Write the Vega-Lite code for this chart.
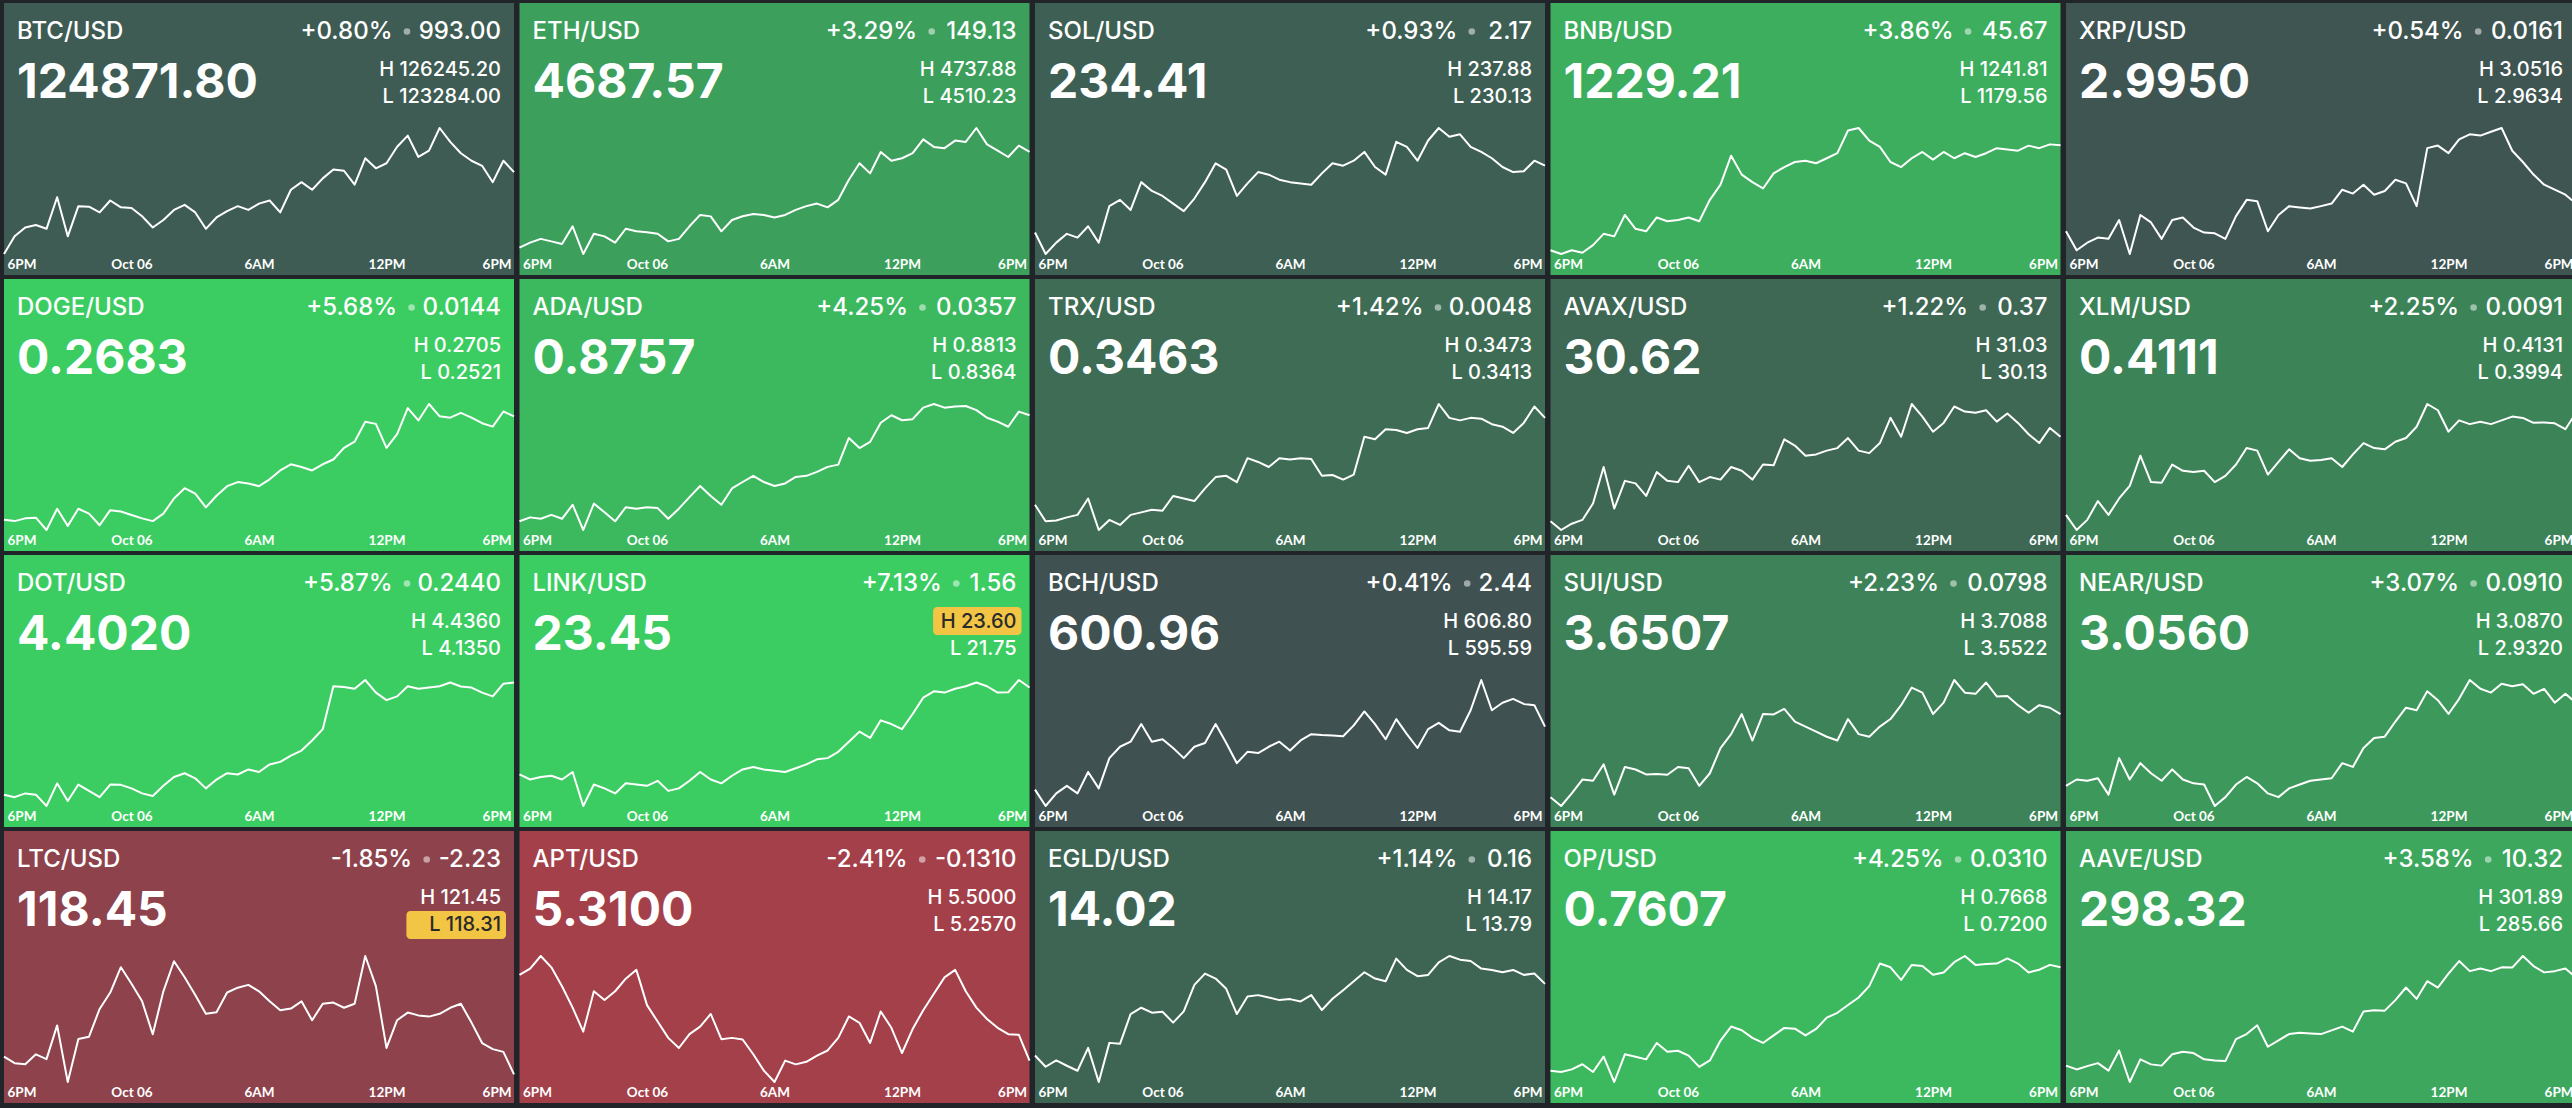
{
"$schema":"https://vega.github.io/schema/vega-lite/v6.json",
"background":"#21252a",
"padding":{"left":3,"top":3,"right":5,"bottom":5},
"config":{"view":{"stroke":null},
 "header":{"labels":false,"labelExpr":"''","labelFontSize":0,"labelPadding":0,"titleFontSize":0,"titlePadding":0},
 "headerFacet":{"labels":false,"labelExpr":"''","labelFontSize":0,"labelPadding":0,"titleFontSize":0,"titlePadding":0}},
"spacing":{"row":4,"column":3.5},
"columns":5,
"data":{"format":{"parse":{"t":"date:'%m-%d %H:%M'"}},"values":[
{"s":"BTC","pair":"BTC/USD","price":"124871.80","pct":0.80,"chg":"993.00","hi":"126245.20","lo":"123284.00"},
{"s":"ETH","pair":"ETH/USD","price":"4687.57","pct":3.29,"chg":"149.13","hi":"4737.88","lo":"4510.23"},
{"s":"SOL","pair":"SOL/USD","price":"234.41","pct":0.93,"chg":"2.17","hi":"237.88","lo":"230.13"},
{"s":"BNB","pair":"BNB/USD","price":"1229.21","pct":3.86,"chg":"45.67","hi":"1241.81","lo":"1179.56"},
{"s":"XRP","pair":"XRP/USD","price":"2.9950","pct":0.54,"chg":"0.0161","hi":"3.0516","lo":"2.9634"},
{"s":"DOGE","pair":"DOGE/USD","price":"0.2683","pct":5.68,"chg":"0.0144","hi":"0.2705","lo":"0.2521"},
{"s":"ADA","pair":"ADA/USD","price":"0.8757","pct":4.25,"chg":"0.0357","hi":"0.8813","lo":"0.8364"},
{"s":"TRX","pair":"TRX/USD","price":"0.3463","pct":1.42,"chg":"0.0048","hi":"0.3473","lo":"0.3413"},
{"s":"AVAX","pair":"AVAX/USD","price":"30.62","pct":1.22,"chg":"0.37","hi":"31.03","lo":"30.13"},
{"s":"XLM","pair":"XLM/USD","price":"0.4111","pct":2.25,"chg":"0.0091","hi":"0.4131","lo":"0.3994"},
{"s":"DOT","pair":"DOT/USD","price":"4.4020","pct":5.87,"chg":"0.2440","hi":"4.4360","lo":"4.1350"},
{"s":"LINK","pair":"LINK/USD","price":"23.45","pct":7.13,"chg":"1.56","hi":"23.60","lo":"21.75"},
{"s":"BCH","pair":"BCH/USD","price":"600.96","pct":0.41,"chg":"2.44","hi":"606.80","lo":"595.59"},
{"s":"SUI","pair":"SUI/USD","price":"3.6507","pct":2.23,"chg":"0.0798","hi":"3.7088","lo":"3.5522"},
{"s":"NEAR","pair":"NEAR/USD","price":"3.0560","pct":3.07,"chg":"0.0910","hi":"3.0870","lo":"2.9320"},
{"s":"LTC","pair":"LTC/USD","price":"118.45","pct":-1.85,"chg":"-2.23","hi":"121.45","lo":"118.31"},
{"s":"APT","pair":"APT/USD","price":"5.3100","pct":-2.41,"chg":"-0.1310","hi":"5.5000","lo":"5.2570"},
{"s":"EGLD","pair":"EGLD/USD","price":"14.02","pct":1.14,"chg":"0.16","hi":"14.17","lo":"13.79"},
{"s":"OP","pair":"OP/USD","price":"0.7607","pct":4.25,"chg":"0.0310","hi":"0.7668","lo":"0.7200"},
{"s":"AAVE","pair":"AAVE/USD","price":"298.32","pct":3.58,"chg":"10.32","hi":"301.89","lo":"285.66"},
{"s":"BTC","t":"10-05 18:00","v":123284},{"s":"BTC","t":"10-05 18:30","v":123699},{"s":"BTC","t":"10-05 19:00","v":123906},{"s":"BTC","t":"10-05 19:30","v":123965},{"s":"BTC","t":"10-05 20:00","v":123876},{"s":"BTC","t":"10-05 20:30","v":124617},{"s":"BTC","t":"10-05 21:00","v":123699},{"s":"BTC","t":"10-05 21:30","v":124409},{"s":"BTC","t":"10-05 22:00","v":124395},{"s":"BTC","t":"10-05 22:30","v":124261},{"s":"BTC","t":"10-05 23:00","v":124541},{"s":"BTC","t":"10-05 23:30","v":124380},{"s":"BTC","t":"10-06 00:00","v":124366},{"s":"BTC","t":"10-06 00:30","v":124172},{"s":"BTC","t":"10-06 01:00","v":123906},{"s":"BTC","t":"10-06 01:30","v":124084},{"s":"BTC","t":"10-06 02:00","v":124320},{"s":"BTC","t":"10-06 02:30","v":124439},{"s":"BTC","t":"10-06 03:00","v":124261},{"s":"BTC","t":"10-06 03:30","v":123876},{"s":"BTC","t":"10-06 04:00","v":124143},{"s":"BTC","t":"10-06 04:30","v":124292},{"s":"BTC","t":"10-06 05:00","v":124409},{"s":"BTC","t":"10-06 05:30","v":124320},{"s":"BTC","t":"10-06 06:00","v":124468},{"s":"BTC","t":"10-06 06:30","v":124541},{"s":"BTC","t":"10-06 07:00","v":124261},{"s":"BTC","t":"10-06 07:30","v":124794},{"s":"BTC","t":"10-06 08:00","v":124972},{"s":"BTC","t":"10-06 08:30","v":124794},{"s":"BTC","t":"10-06 09:00","v":125061},{"s":"BTC","t":"10-06 09:30","v":125268},{"s":"BTC","t":"10-06 10:00","v":125240},{"s":"BTC","t":"10-06 10:30","v":124913},{"s":"BTC","t":"10-06 11:00","v":125534},{"s":"BTC","t":"10-06 11:30","v":125298},{"s":"BTC","t":"10-06 12:00","v":125416},{"s":"BTC","t":"10-06 12:30","v":125804},{"s":"BTC","t":"10-06 13:00","v":126067},{"s":"BTC","t":"10-06 13:30","v":125565},{"s":"BTC","t":"10-06 14:00","v":125714},{"s":"BTC","t":"10-06 14:30","v":126245},{"s":"BTC","t":"10-06 15:00","v":125919},{"s":"BTC","t":"10-06 15:30","v":125653},{"s":"BTC","t":"10-06 16:00","v":125475},{"s":"BTC","t":"10-06 16:30","v":125357},{"s":"BTC","t":"10-06 17:00","v":124972},{"s":"BTC","t":"10-06 17:30","v":125475},{"s":"BTC","t":"10-06 18:00","v":125209},
{"s":"ETH","t":"10-05 18:00","v":4521.6},{"s":"ETH","t":"10-05 18:30","v":4530.7},{"s":"ETH","t":"10-05 19:00","v":4537.5},{"s":"ETH","t":"10-05 19:30","v":4533.0},{"s":"ETH","t":"10-05 20:00","v":4528.4},{"s":"ETH","t":"10-05 20:30","v":4560.3},{"s":"ETH","t":"10-05 21:00","v":4510.2},{"s":"ETH","t":"10-05 21:30","v":4546.7},{"s":"ETH","t":"10-05 22:00","v":4542.1},{"s":"ETH","t":"10-05 22:30","v":4530.7},{"s":"ETH","t":"10-05 23:00","v":4555.8},{"s":"ETH","t":"10-05 23:30","v":4551.2},{"s":"ETH","t":"10-06 00:00","v":4549.6},{"s":"ETH","t":"10-06 00:30","v":4546.7},{"s":"ETH","t":"10-06 01:00","v":4533.0},{"s":"ETH","t":"10-06 01:30","v":4537.5},{"s":"ETH","t":"10-06 02:00","v":4560.3},{"s":"ETH","t":"10-06 02:30","v":4580.8},{"s":"ETH","t":"10-06 03:00","v":4578.2},{"s":"ETH","t":"10-06 03:30","v":4551.2},{"s":"ETH","t":"10-06 04:00","v":4571.7},{"s":"ETH","t":"10-06 04:30","v":4578.5},{"s":"ETH","t":"10-06 05:00","v":4582.4},{"s":"ETH","t":"10-06 05:30","v":4580.8},{"s":"ETH","t":"10-06 06:00","v":4576.1},{"s":"ETH","t":"10-06 06:30","v":4580.8},{"s":"ETH","t":"10-06 07:00","v":4589.9},{"s":"ETH","t":"10-06 07:30","v":4596.7},{"s":"ETH","t":"10-06 08:00","v":4601.3},{"s":"ETH","t":"10-06 08:30","v":4594.5},{"s":"ETH","t":"10-06 09:00","v":4608.1},{"s":"ETH","t":"10-06 09:30","v":4644.5},{"s":"ETH","t":"10-06 10:00","v":4674.1},{"s":"ETH","t":"10-06 10:30","v":4655.9},{"s":"ETH","t":"10-06 11:00","v":4694.6},{"s":"ETH","t":"10-06 11:30","v":4678.7},{"s":"ETH","t":"10-06 12:00","v":4683.2},{"s":"ETH","t":"10-06 12:30","v":4692.4},{"s":"ETH","t":"10-06 13:00","v":4717.4},{"s":"ETH","t":"10-06 13:30","v":4703.7},{"s":"ETH","t":"10-06 14:00","v":4701.5},{"s":"ETH","t":"10-06 14:30","v":4715.1},{"s":"ETH","t":"10-06 15:00","v":4712.8},{"s":"ETH","t":"10-06 15:30","v":4737.9},{"s":"ETH","t":"10-06 16:00","v":4708.3},{"s":"ETH","t":"10-06 16:30","v":4696.9},{"s":"ETH","t":"10-06 17:00","v":4685.5},{"s":"ETH","t":"10-06 17:30","v":4706.0},{"s":"ETH","t":"10-06 18:00","v":4694.6},
{"s":"SOL","t":"10-05 18:00","v":231.45},{"s":"SOL","t":"10-05 18:30","v":230.13},{"s":"SOL","t":"10-05 19:00","v":230.83},{"s":"SOL","t":"10-05 19:30","v":231.37},{"s":"SOL","t":"10-05 20:00","v":231.14},{"s":"SOL","t":"10-05 20:30","v":231.84},{"s":"SOL","t":"10-05 21:00","v":230.83},{"s":"SOL","t":"10-05 21:30","v":233.08},{"s":"SOL","t":"10-05 22:00","v":233.46},{"s":"SOL","t":"10-05 22:30","v":232.84},{"s":"SOL","t":"10-05 23:00","v":234.55},{"s":"SOL","t":"10-05 23:30","v":234.01},{"s":"SOL","t":"10-06 00:00","v":233.70},{"s":"SOL","t":"10-06 00:30","v":233.23},{"s":"SOL","t":"10-06 01:00","v":232.77},{"s":"SOL","t":"10-06 01:30","v":233.54},{"s":"SOL","t":"10-06 02:00","v":234.55},{"s":"SOL","t":"10-06 02:30","v":235.71},{"s":"SOL","t":"10-06 03:00","v":235.32},{"s":"SOL","t":"10-06 03:30","v":233.70},{"s":"SOL","t":"10-06 04:00","v":234.47},{"s":"SOL","t":"10-06 04:30","v":235.17},{"s":"SOL","t":"10-06 05:00","v":235.01},{"s":"SOL","t":"10-06 05:30","v":234.70},{"s":"SOL","t":"10-06 06:00","v":234.55},{"s":"SOL","t":"10-06 06:30","v":234.47},{"s":"SOL","t":"10-06 07:00","v":234.39},{"s":"SOL","t":"10-06 07:30","v":235.09},{"s":"SOL","t":"10-06 08:00","v":235.71},{"s":"SOL","t":"10-06 08:30","v":235.56},{"s":"SOL","t":"10-06 09:00","v":235.87},{"s":"SOL","t":"10-06 09:30","v":236.41},{"s":"SOL","t":"10-06 10:00","v":235.48},{"s":"SOL","t":"10-06 10:30","v":235.01},{"s":"SOL","t":"10-06 11:00","v":237.03},{"s":"SOL","t":"10-06 11:30","v":236.72},{"s":"SOL","t":"10-06 12:00","v":235.87},{"s":"SOL","t":"10-06 12:30","v":237.11},{"s":"SOL","t":"10-06 13:00","v":237.88},{"s":"SOL","t":"10-06 13:30","v":237.34},{"s":"SOL","t":"10-06 14:00","v":237.49},{"s":"SOL","t":"10-06 14:30","v":236.72},{"s":"SOL","t":"10-06 15:00","v":236.41},{"s":"SOL","t":"10-06 15:30","v":236.02},{"s":"SOL","t":"10-06 16:00","v":235.48},{"s":"SOL","t":"10-06 16:30","v":235.17},{"s":"SOL","t":"10-06 17:00","v":235.22},{"s":"SOL","t":"10-06 17:30","v":235.87},{"s":"SOL","t":"10-06 18:00","v":235.56},
{"s":"BNB","t":"10-05 18:00","v":1181.43},{"s":"BNB","t":"10-05 18:30","v":1179.56},{"s":"BNB","t":"10-05 19:00","v":1181.43},{"s":"BNB","t":"10-05 19:30","v":1180.18},{"s":"BNB","t":"10-05 20:00","v":1183.92},{"s":"BNB","t":"10-05 20:30","v":1189.52},{"s":"BNB","t":"10-05 21:00","v":1188.28},{"s":"BNB","t":"10-05 21:30","v":1198.86},{"s":"BNB","t":"10-05 22:00","v":1192.01},{"s":"BNB","t":"10-05 22:30","v":1190.77},{"s":"BNB","t":"10-05 23:00","v":1197.61},{"s":"BNB","t":"10-05 23:30","v":1195.75},{"s":"BNB","t":"10-06 00:00","v":1196.37},{"s":"BNB","t":"10-06 00:30","v":1197.61},{"s":"BNB","t":"10-06 01:00","v":1195.75},{"s":"BNB","t":"10-06 01:30","v":1206.33},{"s":"BNB","t":"10-06 02:00","v":1213.80},{"s":"BNB","t":"10-06 02:30","v":1228.12},{"s":"BNB","t":"10-06 03:00","v":1218.78},{"s":"BNB","t":"10-06 03:30","v":1215.04},{"s":"BNB","t":"10-06 04:00","v":1211.93},{"s":"BNB","t":"10-06 04:30","v":1219.40},{"s":"BNB","t":"10-06 05:00","v":1222.51},{"s":"BNB","t":"10-06 05:30","v":1225.00},{"s":"BNB","t":"10-06 06:00","v":1225.63},{"s":"BNB","t":"10-06 06:30","v":1224.40},{"s":"BNB","t":"10-06 07:00","v":1226.87},{"s":"BNB","t":"10-06 07:30","v":1229.36},{"s":"BNB","t":"10-06 08:00","v":1240.57},{"s":"BNB","t":"10-06 08:30","v":1241.81},{"s":"BNB","t":"10-06 09:00","v":1235.59},{"s":"BNB","t":"10-06 09:30","v":1232.47},{"s":"BNB","t":"10-06 10:00","v":1225.00},{"s":"BNB","t":"10-06 10:30","v":1222.51},{"s":"BNB","t":"10-06 11:00","v":1226.87},{"s":"BNB","t":"10-06 11:30","v":1229.98},{"s":"BNB","t":"10-06 12:00","v":1226.20},{"s":"BNB","t":"10-06 12:30","v":1229.98},{"s":"BNB","t":"10-06 13:00","v":1226.87},{"s":"BNB","t":"10-06 13:30","v":1229.36},{"s":"BNB","t":"10-06 14:00","v":1227.49},{"s":"BNB","t":"10-06 14:30","v":1229.36},{"s":"BNB","t":"10-06 15:00","v":1231.85},{"s":"BNB","t":"10-06 15:30","v":1231.20},{"s":"BNB","t":"10-06 16:00","v":1230.61},{"s":"BNB","t":"10-06 16:30","v":1233.10},{"s":"BNB","t":"10-06 17:00","v":1231.85},{"s":"BNB","t":"10-06 17:30","v":1233.72},{"s":"BNB","t":"10-06 18:00","v":1233.30},
{"s":"XRP","t":"10-05 18:00","v":2.9793},{"s":"XRP","t":"10-05 18:30","v":2.9660},{"s":"XRP","t":"10-05 19:00","v":2.9713},{"s":"XRP","t":"10-05 19:30","v":2.9749},{"s":"XRP","t":"10-05 20:00","v":2.9740},{"s":"XRP","t":"10-05 20:30","v":2.9872},{"s":"XRP","t":"10-05 21:00","v":2.9634},{"s":"XRP","t":"10-05 21:30","v":2.9907},{"s":"XRP","t":"10-05 22:00","v":2.9855},{"s":"XRP","t":"10-05 22:30","v":2.9740},{"s":"XRP","t":"10-05 23:00","v":2.9872},{"s":"XRP","t":"10-05 23:30","v":2.9890},{"s":"XRP","t":"10-06 00:00","v":2.9819},{"s":"XRP","t":"10-06 00:30","v":2.9784},{"s":"XRP","t":"10-06 01:00","v":2.9779},{"s":"XRP","t":"10-06 01:30","v":2.9740},{"s":"XRP","t":"10-06 02:00","v":2.9899},{"s":"XRP","t":"10-06 02:30","v":3.0013},{"s":"XRP","t":"10-06 03:00","v":3.0004},{"s":"XRP","t":"10-06 03:30","v":2.9793},{"s":"XRP","t":"10-06 04:00","v":2.9907},{"s":"XRP","t":"10-06 04:30","v":2.9969},{"s":"XRP","t":"10-06 05:00","v":2.9960},{"s":"XRP","t":"10-06 05:30","v":2.9952},{"s":"XRP","t":"10-06 06:00","v":2.9969},{"s":"XRP","t":"10-06 06:30","v":2.9987},{"s":"XRP","t":"10-06 07:00","v":3.0084},{"s":"XRP","t":"10-06 07:30","v":3.0057},{"s":"XRP","t":"10-06 08:00","v":3.0119},{"s":"XRP","t":"10-06 08:30","v":3.0049},{"s":"XRP","t":"10-06 09:00","v":3.0075},{"s":"XRP","t":"10-06 09:30","v":3.0154},{"s":"XRP","t":"10-06 10:00","v":3.0128},{"s":"XRP","t":"10-06 10:30","v":2.9969},{"s":"XRP","t":"10-06 11:00","v":3.0375},{"s":"XRP","t":"10-06 11:30","v":3.0393},{"s":"XRP","t":"10-06 12:00","v":3.0340},{"s":"XRP","t":"10-06 12:30","v":3.0437},{"s":"XRP","t":"10-06 13:00","v":3.0472},{"s":"XRP","t":"10-06 13:30","v":3.0463},{"s":"XRP","t":"10-06 14:00","v":3.0490},{"s":"XRP","t":"10-06 14:30","v":3.0516},{"s":"XRP","t":"10-06 15:00","v":3.0357},{"s":"XRP","t":"10-06 15:30","v":3.0278},{"s":"XRP","t":"10-06 16:00","v":3.0190},{"s":"XRP","t":"10-06 16:30","v":3.0119},{"s":"XRP","t":"10-06 17:00","v":3.0084},{"s":"XRP","t":"10-06 17:30","v":3.0049},{"s":"XRP","t":"10-06 18:00","v":2.9987},
{"s":"DOGE","t":"10-05 18:00","v":0.2536},{"s":"DOGE","t":"10-05 18:30","v":0.2534},{"s":"DOGE","t":"10-05 19:00","v":0.2538},{"s":"DOGE","t":"10-05 19:30","v":0.2539},{"s":"DOGE","t":"10-05 20:00","v":0.2521},{"s":"DOGE","t":"10-05 20:30","v":0.2552},{"s":"DOGE","t":"10-05 21:00","v":0.2527},{"s":"DOGE","t":"10-05 21:30","v":0.2552},{"s":"DOGE","t":"10-05 22:00","v":0.2545},{"s":"DOGE","t":"10-05 22:30","v":0.2528},{"s":"DOGE","t":"10-05 23:00","v":0.2550},{"s":"DOGE","t":"10-05 23:30","v":0.2548},{"s":"DOGE","t":"10-06 00:00","v":0.2543},{"s":"DOGE","t":"10-06 00:30","v":0.2538},{"s":"DOGE","t":"10-06 01:00","v":0.2534},{"s":"DOGE","t":"10-06 01:30","v":0.2545},{"s":"DOGE","t":"10-06 02:00","v":0.2567},{"s":"DOGE","t":"10-06 02:30","v":0.2582},{"s":"DOGE","t":"10-06 03:00","v":0.2574},{"s":"DOGE","t":"10-06 03:30","v":0.2554},{"s":"DOGE","t":"10-06 04:00","v":0.2571},{"s":"DOGE","t":"10-06 04:30","v":0.2585},{"s":"DOGE","t":"10-06 05:00","v":0.2591},{"s":"DOGE","t":"10-06 05:30","v":0.2589},{"s":"DOGE","t":"10-06 06:00","v":0.2585},{"s":"DOGE","t":"10-06 06:30","v":0.2595},{"s":"DOGE","t":"10-06 07:00","v":0.2608},{"s":"DOGE","t":"10-06 07:30","v":0.2617},{"s":"DOGE","t":"10-06 08:00","v":0.2613},{"s":"DOGE","t":"10-06 08:30","v":0.2608},{"s":"DOGE","t":"10-06 09:00","v":0.2617},{"s":"DOGE","t":"10-06 09:30","v":0.2624},{"s":"DOGE","t":"10-06 10:00","v":0.2641},{"s":"DOGE","t":"10-06 10:30","v":0.2650},{"s":"DOGE","t":"10-06 11:00","v":0.2679},{"s":"DOGE","t":"10-06 11:30","v":0.2676},{"s":"DOGE","t":"10-06 12:00","v":0.2641},{"s":"DOGE","t":"10-06 12:30","v":0.2661},{"s":"DOGE","t":"10-06 13:00","v":0.2699},{"s":"DOGE","t":"10-06 13:30","v":0.2681},{"s":"DOGE","t":"10-06 14:00","v":0.2705},{"s":"DOGE","t":"10-06 14:30","v":0.2687},{"s":"DOGE","t":"10-06 15:00","v":0.2685},{"s":"DOGE","t":"10-06 15:30","v":0.2692},{"s":"DOGE","t":"10-06 16:00","v":0.2685},{"s":"DOGE","t":"10-06 16:30","v":0.2677},{"s":"DOGE","t":"10-06 17:00","v":0.2672},{"s":"DOGE","t":"10-06 17:30","v":0.2694},{"s":"DOGE","t":"10-06 18:00","v":0.2687},
{"s":"ADA","t":"10-05 18:00","v":0.8395},{"s":"ADA","t":"10-05 18:30","v":0.8409},{"s":"ADA","t":"10-05 19:00","v":0.8404},{"s":"ADA","t":"10-05 19:30","v":0.8418},{"s":"ADA","t":"10-05 20:00","v":0.8404},{"s":"ADA","t":"10-05 20:30","v":0.8454},{"s":"ADA","t":"10-05 21:00","v":0.8364},{"s":"ADA","t":"10-05 21:30","v":0.8458},{"s":"ADA","t":"10-05 22:00","v":0.8427},{"s":"ADA","t":"10-05 22:30","v":0.8395},{"s":"ADA","t":"10-05 23:00","v":0.8445},{"s":"ADA","t":"10-05 23:30","v":0.8440},{"s":"ADA","t":"10-06 00:00","v":0.8445},{"s":"ADA","t":"10-06 00:30","v":0.8442},{"s":"ADA","t":"10-06 01:00","v":0.8404},{"s":"ADA","t":"10-06 01:30","v":0.8440},{"s":"ADA","t":"10-06 02:00","v":0.8481},{"s":"ADA","t":"10-06 02:30","v":0.8521},{"s":"ADA","t":"10-06 03:00","v":0.8485},{"s":"ADA","t":"10-06 03:30","v":0.8454},{"s":"ADA","t":"10-06 04:00","v":0.8512},{"s":"ADA","t":"10-06 04:30","v":0.8535},{"s":"ADA","t":"10-06 05:00","v":0.8557},{"s":"ADA","t":"10-06 05:30","v":0.8535},{"s":"ADA","t":"10-06 06:00","v":0.8521},{"s":"ADA","t":"10-06 06:30","v":0.8530},{"s":"ADA","t":"10-06 07:00","v":0.8553},{"s":"ADA","t":"10-06 07:30","v":0.8557},{"s":"ADA","t":"10-06 08:00","v":0.8571},{"s":"ADA","t":"10-06 08:30","v":0.8589},{"s":"ADA","t":"10-06 09:00","v":0.8597},{"s":"ADA","t":"10-06 09:30","v":0.8692},{"s":"ADA","t":"10-06 10:00","v":0.8656},{"s":"ADA","t":"10-06 10:30","v":0.8678},{"s":"ADA","t":"10-06 11:00","v":0.8746},{"s":"ADA","t":"10-06 11:30","v":0.8773},{"s":"ADA","t":"10-06 12:00","v":0.8755},{"s":"ADA","t":"10-06 12:30","v":0.8759},{"s":"ADA","t":"10-06 13:00","v":0.8800},{"s":"ADA","t":"10-06 13:30","v":0.8813},{"s":"ADA","t":"10-06 14:00","v":0.8800},{"s":"ADA","t":"10-06 14:30","v":0.8804},{"s":"ADA","t":"10-06 15:00","v":0.8806},{"s":"ADA","t":"10-06 15:30","v":0.8791},{"s":"ADA","t":"10-06 16:00","v":0.8764},{"s":"ADA","t":"10-06 16:30","v":0.8750},{"s":"ADA","t":"10-06 17:00","v":0.8732},{"s":"ADA","t":"10-06 17:30","v":0.8786},{"s":"ADA","t":"10-06 18:00","v":0.8773},
{"s":"TRX","t":"10-05 18:00","v":0.34250},{"s":"TRX","t":"10-05 18:30","v":0.34172},{"s":"TRX","t":"10-05 19:00","v":0.34175},{"s":"TRX","t":"10-05 19:30","v":0.34190},{"s":"TRX","t":"10-05 20:00","v":0.34202},{"s":"TRX","t":"10-05 20:30","v":0.34280},{"s":"TRX","t":"10-05 21:00","v":0.34130},{"s":"TRX","t":"10-05 21:30","v":0.34178},{"s":"TRX","t":"10-05 22:00","v":0.34154},{"s":"TRX","t":"10-05 22:30","v":0.34202},{"s":"TRX","t":"10-05 23:00","v":0.34214},{"s":"TRX","t":"10-05 23:30","v":0.34226},{"s":"TRX","t":"10-06 00:00","v":0.34222},{"s":"TRX","t":"10-06 00:30","v":0.34292},{"s":"TRX","t":"10-06 01:00","v":0.34280},{"s":"TRX","t":"10-06 01:30","v":0.34268},{"s":"TRX","t":"10-06 02:00","v":0.34328},{"s":"TRX","t":"10-06 02:30","v":0.34382},{"s":"TRX","t":"10-06 03:00","v":0.34388},{"s":"TRX","t":"10-06 03:30","v":0.34358},{"s":"TRX","t":"10-06 04:00","v":0.34472},{"s":"TRX","t":"10-06 04:30","v":0.34454},{"s":"TRX","t":"10-06 05:00","v":0.34430},{"s":"TRX","t":"10-06 05:30","v":0.34472},{"s":"TRX","t":"10-06 06:00","v":0.34466},{"s":"TRX","t":"10-06 06:30","v":0.34472},{"s":"TRX","t":"10-06 07:00","v":0.34468},{"s":"TRX","t":"10-06 07:30","v":0.34388},{"s":"TRX","t":"10-06 08:00","v":0.34392},{"s":"TRX","t":"10-06 08:30","v":0.34370},{"s":"TRX","t":"10-06 09:00","v":0.34394},{"s":"TRX","t":"10-06 09:30","v":0.34574},{"s":"TRX","t":"10-06 10:00","v":0.34562},{"s":"TRX","t":"10-06 10:30","v":0.34610},{"s":"TRX","t":"10-06 11:00","v":0.34606},{"s":"TRX","t":"10-06 11:30","v":0.34592},{"s":"TRX","t":"10-06 12:00","v":0.34610},{"s":"TRX","t":"10-06 12:30","v":0.34616},{"s":"TRX","t":"10-06 13:00","v":0.34730},{"s":"TRX","t":"10-06 13:30","v":0.34664},{"s":"TRX","t":"10-06 14:00","v":0.34652},{"s":"TRX","t":"10-06 14:30","v":0.34664},{"s":"TRX","t":"10-06 15:00","v":0.34660},{"s":"TRX","t":"10-06 15:30","v":0.34634},{"s":"TRX","t":"10-06 16:00","v":0.34622},{"s":"TRX","t":"10-06 16:30","v":0.34592},{"s":"TRX","t":"10-06 17:00","v":0.34640},{"s":"TRX","t":"10-06 17:30","v":0.34718},{"s":"TRX","t":"10-06 18:00","v":0.34664},
{"s":"AVAX","t":"10-05 18:00","v":30.193},{"s":"AVAX","t":"10-05 18:30","v":30.130},{"s":"AVAX","t":"10-05 19:00","v":30.175},{"s":"AVAX","t":"10-05 19:30","v":30.202},{"s":"AVAX","t":"10-05 20:00","v":30.319},{"s":"AVAX","t":"10-05 20:30","v":30.580},{"s":"AVAX","t":"10-05 21:00","v":30.283},{"s":"AVAX","t":"10-05 21:30","v":30.481},{"s":"AVAX","t":"10-05 22:00","v":30.463},{"s":"AVAX","t":"10-05 22:30","v":30.373},{"s":"AVAX","t":"10-05 23:00","v":30.544},{"s":"AVAX","t":"10-05 23:30","v":30.481},{"s":"AVAX","t":"10-06 00:00","v":30.472},{"s":"AVAX","t":"10-06 00:30","v":30.589},{"s":"AVAX","t":"10-06 01:00","v":30.472},{"s":"AVAX","t":"10-06 01:30","v":30.508},{"s":"AVAX","t":"10-06 02:00","v":30.490},{"s":"AVAX","t":"10-06 02:30","v":30.580},{"s":"AVAX","t":"10-06 03:00","v":30.553},{"s":"AVAX","t":"10-06 03:30","v":30.490},{"s":"AVAX","t":"10-06 04:00","v":30.598},{"s":"AVAX","t":"10-06 04:30","v":30.592},{"s":"AVAX","t":"10-06 05:00","v":30.778},{"s":"AVAX","t":"10-06 05:30","v":30.733},{"s":"AVAX","t":"10-06 06:00","v":30.661},{"s":"AVAX","t":"10-06 06:30","v":30.670},{"s":"AVAX","t":"10-06 07:00","v":30.697},{"s":"AVAX","t":"10-06 07:30","v":30.715},{"s":"AVAX","t":"10-06 08:00","v":30.787},{"s":"AVAX","t":"10-06 08:30","v":30.697},{"s":"AVAX","t":"10-06 09:00","v":30.679},{"s":"AVAX","t":"10-06 09:30","v":30.751},{"s":"AVAX","t":"10-06 10:00","v":30.931},{"s":"AVAX","t":"10-06 10:30","v":30.796},{"s":"AVAX","t":"10-06 11:00","v":31.030},{"s":"AVAX","t":"10-06 11:30","v":30.940},{"s":"AVAX","t":"10-06 12:00","v":30.832},{"s":"AVAX","t":"10-06 12:30","v":30.895},{"s":"AVAX","t":"10-06 13:00","v":31.012},{"s":"AVAX","t":"10-06 13:30","v":30.976},{"s":"AVAX","t":"10-06 14:00","v":30.967},{"s":"AVAX","t":"10-06 14:30","v":30.985},{"s":"AVAX","t":"10-06 15:00","v":30.904},{"s":"AVAX","t":"10-06 15:30","v":30.962},{"s":"AVAX","t":"10-06 16:00","v":30.895},{"s":"AVAX","t":"10-06 16:30","v":30.814},{"s":"AVAX","t":"10-06 17:00","v":30.751},{"s":"AVAX","t":"10-06 17:30","v":30.859},{"s":"AVAX","t":"10-06 18:00","v":30.796},
{"s":"XLM","t":"10-05 18:00","v":0.40104},{"s":"XLM","t":"10-05 18:30","v":0.39940},{"s":"XLM","t":"10-05 19:00","v":0.40050},{"s":"XLM","t":"10-05 19:30","v":0.40255},{"s":"XLM","t":"10-05 20:00","v":0.40104},{"s":"XLM","t":"10-05 20:30","v":0.40283},{"s":"XLM","t":"10-05 21:00","v":0.40420},{"s":"XLM","t":"10-05 21:30","v":0.40748},{"s":"XLM","t":"10-05 22:00","v":0.40461},{"s":"XLM","t":"10-05 22:30","v":0.40455},{"s":"XLM","t":"10-05 23:00","v":0.40652},{"s":"XLM","t":"10-05 23:30","v":0.40584},{"s":"XLM","t":"10-06 00:00","v":0.40570},{"s":"XLM","t":"10-06 00:30","v":0.40584},{"s":"XLM","t":"10-06 01:00","v":0.40461},{"s":"XLM","t":"10-06 01:30","v":0.40529},{"s":"XLM","t":"10-06 02:00","v":0.40652},{"s":"XLM","t":"10-06 02:30","v":0.40831},{"s":"XLM","t":"10-06 03:00","v":0.40803},{"s":"XLM","t":"10-06 03:30","v":0.40543},{"s":"XLM","t":"10-06 04:00","v":0.40680},{"s":"XLM","t":"10-06 04:30","v":0.40817},{"s":"XLM","t":"10-06 05:00","v":0.40721},{"s":"XLM","t":"10-06 05:30","v":0.40694},{"s":"XLM","t":"10-06 06:00","v":0.40700},{"s":"XLM","t":"10-06 06:30","v":0.40721},{"s":"XLM","t":"10-06 07:00","v":0.40625},{"s":"XLM","t":"10-06 07:30","v":0.40762},{"s":"XLM","t":"10-06 08:00","v":0.40885},{"s":"XLM","t":"10-06 08:30","v":0.40831},{"s":"XLM","t":"10-06 09:00","v":0.40817},{"s":"XLM","t":"10-06 09:30","v":0.40899},{"s":"XLM","t":"10-06 10:00","v":0.40940},{"s":"XLM","t":"10-06 10:30","v":0.41063},{"s":"XLM","t":"10-06 11:00","v":0.41310},{"s":"XLM","t":"10-06 11:30","v":0.41242},{"s":"XLM","t":"10-06 12:00","v":0.41009},{"s":"XLM","t":"10-06 12:30","v":0.41132},{"s":"XLM","t":"10-06 13:00","v":0.41091},{"s":"XLM","t":"10-06 13:30","v":0.41118},{"s":"XLM","t":"10-06 14:00","v":0.41091},{"s":"XLM","t":"10-06 14:30","v":0.41132},{"s":"XLM","t":"10-06 15:00","v":0.41173},{"s":"XLM","t":"10-06 15:30","v":0.41159},{"s":"XLM","t":"10-06 16:00","v":0.41105},{"s":"XLM","t":"10-06 16:30","v":0.41110},{"s":"XLM","t":"10-06 17:00","v":0.41100},{"s":"XLM","t":"10-06 17:30","v":0.41036},{"s":"XLM","t":"10-06 18:00","v":0.41214},
{"s":"DOT","t":"10-05 18:00","v":4.1621},{"s":"DOT","t":"10-05 18:30","v":4.1561},{"s":"DOT","t":"10-05 19:00","v":4.1651},{"s":"DOT","t":"10-05 19:30","v":4.1621},{"s":"DOT","t":"10-05 20:00","v":4.1350},{"s":"DOT","t":"10-05 20:30","v":4.1892},{"s":"DOT","t":"10-05 21:00","v":4.1470},{"s":"DOT","t":"10-05 21:30","v":4.1862},{"s":"DOT","t":"10-05 22:00","v":4.1711},{"s":"DOT","t":"10-05 22:30","v":4.1561},{"s":"DOT","t":"10-05 23:00","v":4.1862},{"s":"DOT","t":"10-05 23:30","v":4.1855},{"s":"DOT","t":"10-06 00:00","v":4.1771},{"s":"DOT","t":"10-06 00:30","v":4.1651},{"s":"DOT","t":"10-06 01:00","v":4.1591},{"s":"DOT","t":"10-06 01:30","v":4.1832},{"s":"DOT","t":"10-06 02:00","v":4.2042},{"s":"DOT","t":"10-06 02:30","v":4.2133},{"s":"DOT","t":"10-06 03:00","v":4.2012},{"s":"DOT","t":"10-06 03:30","v":4.1771},{"s":"DOT","t":"10-06 04:00","v":4.1982},{"s":"DOT","t":"10-06 04:30","v":4.2133},{"s":"DOT","t":"10-06 05:00","v":4.2103},{"s":"DOT","t":"10-06 05:30","v":4.2223},{"s":"DOT","t":"10-06 06:00","v":4.2163},{"s":"DOT","t":"10-06 06:30","v":4.2343},{"s":"DOT","t":"10-06 07:00","v":4.2404},{"s":"DOT","t":"10-06 07:30","v":4.2554},{"s":"DOT","t":"10-06 08:00","v":4.2674},{"s":"DOT","t":"10-06 08:30","v":4.2915},{"s":"DOT","t":"10-06 09:00","v":4.3186},{"s":"DOT","t":"10-06 09:30","v":4.4210},{"s":"DOT","t":"10-06 10:00","v":4.4195},{"s":"DOT","t":"10-06 10:30","v":4.4149},{"s":"DOT","t":"10-06 11:00","v":4.4360},{"s":"DOT","t":"10-06 11:30","v":4.4059},{"s":"DOT","t":"10-06 12:00","v":4.3878},{"s":"DOT","t":"10-06 12:30","v":4.3969},{"s":"DOT","t":"10-06 13:00","v":4.4210},{"s":"DOT","t":"10-06 13:30","v":4.4149},{"s":"DOT","t":"10-06 14:00","v":4.4179},{"s":"DOT","t":"10-06 14:30","v":4.4210},{"s":"DOT","t":"10-06 15:00","v":4.4300},{"s":"DOT","t":"10-06 15:30","v":4.4205},{"s":"DOT","t":"10-06 16:00","v":4.4179},{"s":"DOT","t":"10-06 16:30","v":4.4059},{"s":"DOT","t":"10-06 17:00","v":4.3969},{"s":"DOT","t":"10-06 17:30","v":4.4270},{"s":"DOT","t":"10-06 18:00","v":4.4300},
{"s":"LINK","t":"10-05 18:00","v":22.213},{"s":"LINK","t":"10-05 18:30","v":22.139},{"s":"LINK","t":"10-05 19:00","v":22.176},{"s":"LINK","t":"10-05 19:30","v":22.194},{"s":"LINK","t":"10-05 20:00","v":22.139},{"s":"LINK","t":"10-05 20:30","v":22.250},{"s":"LINK","t":"10-05 21:00","v":21.750},{"s":"LINK","t":"10-05 21:30","v":22.065},{"s":"LINK","t":"10-05 22:00","v":22.009},{"s":"LINK","t":"10-05 22:30","v":21.935},{"s":"LINK","t":"10-05 23:00","v":22.083},{"s":"LINK","t":"10-05 23:30","v":22.065},{"s":"LINK","t":"10-06 00:00","v":22.046},{"s":"LINK","t":"10-06 00:30","v":22.120},{"s":"LINK","t":"10-06 01:00","v":21.972},{"s":"LINK","t":"10-06 01:30","v":22.009},{"s":"LINK","t":"10-06 02:00","v":22.120},{"s":"LINK","t":"10-06 02:30","v":22.250},{"s":"LINK","t":"10-06 03:00","v":22.139},{"s":"LINK","t":"10-06 03:30","v":22.083},{"s":"LINK","t":"10-06 04:00","v":22.194},{"s":"LINK","t":"10-06 04:30","v":22.287},{"s":"LINK","t":"10-06 05:00","v":22.324},{"s":"LINK","t":"10-06 05:30","v":22.287},{"s":"LINK","t":"10-06 06:00","v":22.268},{"s":"LINK","t":"10-06 06:30","v":22.250},{"s":"LINK","t":"10-06 07:00","v":22.305},{"s":"LINK","t":"10-06 07:30","v":22.361},{"s":"LINK","t":"10-06 08:00","v":22.435},{"s":"LINK","t":"10-06 08:30","v":22.453},{"s":"LINK","t":"10-06 09:00","v":22.546},{"s":"LINK","t":"10-06 09:30","v":22.694},{"s":"LINK","t":"10-06 10:00","v":22.842},{"s":"LINK","t":"10-06 10:30","v":22.749},{"s":"LINK","t":"10-06 11:00","v":23.008},{"s":"LINK","t":"10-06 11:30","v":22.953},{"s":"LINK","t":"10-06 12:00","v":22.879},{"s":"LINK","t":"10-06 12:30","v":23.101},{"s":"LINK","t":"10-06 13:00","v":23.341},{"s":"LINK","t":"10-06 13:30","v":23.434},{"s":"LINK","t":"10-06 14:00","v":23.415},{"s":"LINK","t":"10-06 14:30","v":23.471},{"s":"LINK","t":"10-06 15:00","v":23.508},{"s":"LINK","t":"10-06 15:30","v":23.563},{"s":"LINK","t":"10-06 16:00","v":23.508},{"s":"LINK","t":"10-06 16:30","v":23.415},{"s":"LINK","t":"10-06 17:00","v":23.420},{"s":"LINK","t":"10-06 17:30","v":23.600},{"s":"LINK","t":"10-06 18:00","v":23.489},
{"s":"BCH","t":"10-05 18:00","v":597.05},{"s":"BCH","t":"10-05 18:30","v":595.59},{"s":"BCH","t":"10-05 19:00","v":596.71},{"s":"BCH","t":"10-05 19:30","v":597.38},{"s":"BCH","t":"10-05 20:00","v":596.71},{"s":"BCH","t":"10-05 20:30","v":598.62},{"s":"BCH","t":"10-05 21:00","v":597.16},{"s":"BCH","t":"10-05 21:30","v":599.85},{"s":"BCH","t":"10-05 22:00","v":600.86},{"s":"BCH","t":"10-05 22:30","v":601.31},{"s":"BCH","t":"10-05 23:00","v":602.88},{"s":"BCH","t":"10-05 23:30","v":601.31},{"s":"BCH","t":"10-06 00:00","v":601.53},{"s":"BCH","t":"10-06 00:30","v":600.75},{"s":"BCH","t":"10-06 01:00","v":599.85},{"s":"BCH","t":"10-06 01:30","v":600.86},{"s":"BCH","t":"10-06 02:00","v":601.20},{"s":"BCH","t":"10-06 02:30","v":602.88},{"s":"BCH","t":"10-06 03:00","v":601.20},{"s":"BCH","t":"10-06 03:30","v":599.40},{"s":"BCH","t":"10-06 04:00","v":600.41},{"s":"BCH","t":"10-06 04:30","v":600.30},{"s":"BCH","t":"10-06 05:00","v":600.86},{"s":"BCH","t":"10-06 05:30","v":601.31},{"s":"BCH","t":"10-06 06:00","v":600.52},{"s":"BCH","t":"10-06 06:30","v":601.42},{"s":"BCH","t":"10-06 07:00","v":601.98},{"s":"BCH","t":"10-06 07:30","v":601.90},{"s":"BCH","t":"10-06 08:00","v":601.87},{"s":"BCH","t":"10-06 08:30","v":601.80},{"s":"BCH","t":"10-06 09:00","v":602.76},{"s":"BCH","t":"10-06 09:30","v":604.00},{"s":"BCH","t":"10-06 10:00","v":602.88},{"s":"BCH","t":"10-06 10:30","v":601.53},{"s":"BCH","t":"10-06 11:00","v":603.32},{"s":"BCH","t":"10-06 11:30","v":601.98},{"s":"BCH","t":"10-06 12:00","v":600.75},{"s":"BCH","t":"10-06 12:30","v":602.43},{"s":"BCH","t":"10-06 13:00","v":602.99},{"s":"BCH","t":"10-06 13:30","v":602.32},{"s":"BCH","t":"10-06 14:00","v":602.20},{"s":"BCH","t":"10-06 14:30","v":604.11},{"s":"BCH","t":"10-06 15:00","v":606.80},{"s":"BCH","t":"10-06 15:30","v":604.11},{"s":"BCH","t":"10-06 16:00","v":604.78},{"s":"BCH","t":"10-06 16:30","v":605.12},{"s":"BCH","t":"10-06 17:00","v":604.67},{"s":"BCH","t":"10-06 17:30","v":604.56},{"s":"BCH","t":"10-06 18:00","v":602.65},
{"s":"SUI","t":"10-05 18:00","v":3.5632},{"s":"SUI","t":"10-05 18:30","v":3.5522},{"s":"SUI","t":"10-05 19:00","v":3.5679},{"s":"SUI","t":"10-05 19:30","v":3.5851},{"s":"SUI","t":"10-05 20:00","v":3.5835},{"s":"SUI","t":"10-05 20:30","v":3.6039},{"s":"SUI","t":"10-05 21:00","v":3.5663},{"s":"SUI","t":"10-05 21:30","v":3.6007},{"s":"SUI","t":"10-05 22:00","v":3.5976},{"s":"SUI","t":"10-05 22:30","v":3.5914},{"s":"SUI","t":"10-05 23:00","v":3.5920},{"s":"SUI","t":"10-05 23:30","v":3.5910},{"s":"SUI","t":"10-06 00:00","v":3.6007},{"s":"SUI","t":"10-06 00:30","v":3.5992},{"s":"SUI","t":"10-06 01:00","v":3.5773},{"s":"SUI","t":"10-06 01:30","v":3.5929},{"s":"SUI","t":"10-06 02:00","v":3.6242},{"s":"SUI","t":"10-06 02:30","v":3.6415},{"s":"SUI","t":"10-06 03:00","v":3.6665},{"s":"SUI","t":"10-06 03:30","v":3.6336},{"s":"SUI","t":"10-06 04:00","v":3.6665},{"s":"SUI","t":"10-06 04:30","v":3.6660},{"s":"SUI","t":"10-06 05:00","v":3.6728},{"s":"SUI","t":"10-06 05:30","v":3.6571},{"s":"SUI","t":"10-06 06:00","v":3.6509},{"s":"SUI","t":"10-06 06:30","v":3.6446},{"s":"SUI","t":"10-06 07:00","v":3.6383},{"s":"SUI","t":"10-06 07:30","v":3.6336},{"s":"SUI","t":"10-06 08:00","v":3.6603},{"s":"SUI","t":"10-06 08:30","v":3.6415},{"s":"SUI","t":"10-06 09:00","v":3.6383},{"s":"SUI","t":"10-06 09:30","v":3.6509},{"s":"SUI","t":"10-06 10:00","v":3.6603},{"s":"SUI","t":"10-06 10:30","v":3.6775},{"s":"SUI","t":"10-06 11:00","v":3.6994},{"s":"SUI","t":"10-06 11:30","v":3.6931},{"s":"SUI","t":"10-06 12:00","v":3.6665},{"s":"SUI","t":"10-06 12:30","v":3.6806},{"s":"SUI","t":"10-06 13:00","v":3.7088},{"s":"SUI","t":"10-06 13:30","v":3.6931},{"s":"SUI","t":"10-06 14:00","v":3.6916},{"s":"SUI","t":"10-06 14:30","v":3.7057},{"s":"SUI","t":"10-06 15:00","v":3.6884},{"s":"SUI","t":"10-06 15:30","v":3.6890},{"s":"SUI","t":"10-06 16:00","v":3.6775},{"s":"SUI","t":"10-06 16:30","v":3.6681},{"s":"SUI","t":"10-06 17:00","v":3.6775},{"s":"SUI","t":"10-06 17:30","v":3.6743},{"s":"SUI","t":"10-06 18:00","v":3.6665},
{"s":"NEAR","t":"10-05 18:00","v":2.9568},{"s":"NEAR","t":"10-05 18:30","v":2.9646},{"s":"NEAR","t":"10-05 19:00","v":2.9630},{"s":"NEAR","t":"10-05 19:30","v":2.9661},{"s":"NEAR","t":"10-05 20:00","v":2.9460},{"s":"NEAR","t":"10-05 20:30","v":2.9909},{"s":"NEAR","t":"10-05 21:00","v":2.9646},{"s":"NEAR","t":"10-05 21:30","v":2.9847},{"s":"NEAR","t":"10-05 22:00","v":2.9723},{"s":"NEAR","t":"10-05 22:30","v":2.9630},{"s":"NEAR","t":"10-05 23:00","v":2.9770},{"s":"NEAR","t":"10-05 23:30","v":2.9646},{"s":"NEAR","t":"10-06 00:00","v":2.9599},{"s":"NEAR","t":"10-06 00:30","v":2.9584},{"s":"NEAR","t":"10-06 01:00","v":2.9320},{"s":"NEAR","t":"10-06 01:30","v":2.9429},{"s":"NEAR","t":"10-06 02:00","v":2.9584},{"s":"NEAR","t":"10-06 02:30","v":2.9677},{"s":"NEAR","t":"10-06 03:00","v":2.9599},{"s":"NEAR","t":"10-06 03:30","v":2.9475},{"s":"NEAR","t":"10-06 04:00","v":2.9429},{"s":"NEAR","t":"10-06 04:30","v":2.9537},{"s":"NEAR","t":"10-06 05:00","v":2.9584},{"s":"NEAR","t":"10-06 05:30","v":2.9630},{"s":"NEAR","t":"10-06 06:00","v":2.9646},{"s":"NEAR","t":"10-06 06:30","v":2.9661},{"s":"NEAR","t":"10-06 07:00","v":2.9847},{"s":"NEAR","t":"10-06 07:30","v":2.9801},{"s":"NEAR","t":"10-06 08:00","v":3.0033},{"s":"NEAR","t":"10-06 08:30","v":3.0157},{"s":"NEAR","t":"10-06 09:00","v":3.0173},{"s":"NEAR","t":"10-06 09:30","v":3.0359},{"s":"NEAR","t":"10-06 10:00","v":3.0529},{"s":"NEAR","t":"10-06 10:30","v":3.0498},{"s":"NEAR","t":"10-06 11:00","v":3.0731},{"s":"NEAR","t":"10-06 11:30","v":3.0622},{"s":"NEAR","t":"10-06 12:00","v":3.0452},{"s":"NEAR","t":"10-06 12:30","v":3.0638},{"s":"NEAR","t":"10-06 13:00","v":3.0870},{"s":"NEAR","t":"10-06 13:30","v":3.0762},{"s":"NEAR","t":"10-06 14:00","v":3.0715},{"s":"NEAR","t":"10-06 14:30","v":3.0824},{"s":"NEAR","t":"10-06 15:00","v":3.0793},{"s":"NEAR","t":"10-06 15:30","v":3.0818},{"s":"NEAR","t":"10-06 16:00","v":3.0700},{"s":"NEAR","t":"10-06 16:30","v":3.0762},{"s":"NEAR","t":"10-06 17:00","v":3.0591},{"s":"NEAR","t":"10-06 17:30","v":3.0700},{"s":"NEAR","t":"10-06 18:00","v":3.0591},
{"s":"LTC","t":"10-05 18:00","v":118.94},{"s":"LTC","t":"10-05 18:30","v":118.78},{"s":"LTC","t":"10-05 19:00","v":118.75},{"s":"LTC","t":"10-05 19:30","v":119.00},{"s":"LTC","t":"10-05 20:00","v":118.88},{"s":"LTC","t":"10-05 20:30","v":119.72},{"s":"LTC","t":"10-05 21:00","v":118.31},{"s":"LTC","t":"10-05 21:30","v":119.38},{"s":"LTC","t":"10-05 22:00","v":119.44},{"s":"LTC","t":"10-05 22:30","v":120.13},{"s":"LTC","t":"10-05 23:00","v":120.54},{"s":"LTC","t":"10-05 23:30","v":121.17},{"s":"LTC","t":"10-06 00:00","v":120.76},{"s":"LTC","t":"10-06 00:30","v":120.32},{"s":"LTC","t":"10-06 01:00","v":119.50},{"s":"LTC","t":"10-06 01:30","v":120.57},{"s":"LTC","t":"10-06 02:00","v":121.32},{"s":"LTC","t":"10-06 02:30","v":120.92},{"s":"LTC","t":"10-06 03:00","v":120.48},{"s":"LTC","t":"10-06 03:30","v":120.01},{"s":"LTC","t":"10-06 04:00","v":120.05},{"s":"LTC","t":"10-06 04:30","v":120.54},{"s":"LTC","t":"10-06 05:00","v":120.66},{"s":"LTC","t":"10-06 05:30","v":120.73},{"s":"LTC","t":"10-06 06:00","v":120.57},{"s":"LTC","t":"10-06 06:30","v":120.32},{"s":"LTC","t":"10-06 07:00","v":120.10},{"s":"LTC","t":"10-06 07:30","v":120.14},{"s":"LTC","t":"10-06 08:00","v":120.32},{"s":"LTC","t":"10-06 08:30","v":119.85},{"s":"LTC","t":"10-06 09:00","v":120.26},{"s":"LTC","t":"10-06 09:30","v":120.29},{"s":"LTC","t":"10-06 10:00","v":120.16},{"s":"LTC","t":"10-06 10:30","v":120.26},{"s":"LTC","t":"10-06 11:00","v":121.45},{"s":"LTC","t":"10-06 11:30","v":120.70},{"s":"LTC","t":"10-06 12:00","v":119.16},{"s":"LTC","t":"10-06 12:30","v":119.85},{"s":"LTC","t":"10-06 13:00","v":120.04},{"s":"LTC","t":"10-06 13:30","v":119.97},{"s":"LTC","t":"10-06 14:00","v":119.94},{"s":"LTC","t":"10-06 14:30","v":120.01},{"s":"LTC","t":"10-06 15:00","v":120.16},{"s":"LTC","t":"10-06 15:30","v":120.26},{"s":"LTC","t":"10-06 16:00","v":119.79},{"s":"LTC","t":"10-06 16:30","v":119.28},{"s":"LTC","t":"10-06 17:00","v":119.13},{"s":"LTC","t":"10-06 17:30","v":119.06},{"s":"LTC","t":"10-06 18:00","v":118.50},
{"s":"APT","t":"10-05 18:00","v":5.4636},{"s":"APT","t":"10-05 18:30","v":5.4757},{"s":"APT","t":"10-05 19:00","v":5.5000},{"s":"APT","t":"10-05 19:30","v":5.4781},{"s":"APT","t":"10-05 20:00","v":5.4417},{"s":"APT","t":"10-05 20:30","v":5.4004},{"s":"APT","t":"10-05 21:00","v":5.3542},{"s":"APT","t":"10-05 21:30","v":5.4320},{"s":"APT","t":"10-05 22:00","v":5.4150},{"s":"APT","t":"10-05 22:30","v":5.4320},{"s":"APT","t":"10-05 23:00","v":5.4563},{"s":"APT","t":"10-05 23:30","v":5.4733},{"s":"APT","t":"10-06 00:00","v":5.4052},{"s":"APT","t":"10-06 00:30","v":5.3736},{"s":"APT","t":"10-06 01:00","v":5.3421},{"s":"APT","t":"10-06 01:30","v":5.3226},{"s":"APT","t":"10-06 02:00","v":5.3493},{"s":"APT","t":"10-06 02:30","v":5.3639},{"s":"APT","t":"10-06 03:00","v":5.3882},{"s":"APT","t":"10-06 03:30","v":5.3396},{"s":"APT","t":"10-06 04:00","v":5.3421},{"s":"APT","t":"10-06 04:30","v":5.3390},{"s":"APT","t":"10-06 05:00","v":5.3105},{"s":"APT","t":"10-06 05:30","v":5.2789},{"s":"APT","t":"10-06 06:00","v":5.2570},{"s":"APT","t":"10-06 06:30","v":5.2983},{"s":"APT","t":"10-06 07:00","v":5.2910},{"s":"APT","t":"10-06 07:30","v":5.2959},{"s":"APT","t":"10-06 08:00","v":5.3080},{"s":"APT","t":"10-06 08:30","v":5.3178},{"s":"APT","t":"10-06 09:00","v":5.3421},{"s":"APT","t":"10-06 09:30","v":5.3834},{"s":"APT","t":"10-06 10:00","v":5.3712},{"s":"APT","t":"10-06 10:30","v":5.3323},{"s":"APT","t":"10-06 11:00","v":5.3931},{"s":"APT","t":"10-06 11:30","v":5.3615},{"s":"APT","t":"10-06 12:00","v":5.3129},{"s":"APT","t":"10-06 12:30","v":5.3591},{"s":"APT","t":"10-06 13:00","v":5.3955},{"s":"APT","t":"10-06 13:30","v":5.4271},{"s":"APT","t":"10-06 14:00","v":5.4587},{"s":"APT","t":"10-06 14:30","v":5.4733},{"s":"APT","t":"10-06 15:00","v":5.4320},{"s":"APT","t":"10-06 15:30","v":5.4004},{"s":"APT","t":"10-06 16:00","v":5.3785},{"s":"APT","t":"10-06 16:30","v":5.3615},{"s":"APT","t":"10-06 17:00","v":5.3493},{"s":"APT","t":"10-06 17:30","v":5.3480},{"s":"APT","t":"10-06 18:00","v":5.2983},
{"s":"EGLD","t":"10-05 18:00","v":13.870},{"s":"EGLD","t":"10-05 18:30","v":13.836},{"s":"EGLD","t":"10-05 19:00","v":13.855},{"s":"EGLD","t":"10-05 19:30","v":13.839},{"s":"EGLD","t":"10-05 20:00","v":13.824},{"s":"EGLD","t":"10-05 20:30","v":13.893},{"s":"EGLD","t":"10-05 21:00","v":13.790},{"s":"EGLD","t":"10-05 21:30","v":13.908},{"s":"EGLD","t":"10-05 22:00","v":13.905},{"s":"EGLD","t":"10-05 22:30","v":13.995},{"s":"EGLD","t":"10-05 23:00","v":14.014},{"s":"EGLD","t":"10-05 23:30","v":13.999},{"s":"EGLD","t":"10-06 00:00","v":14.002},{"s":"EGLD","t":"10-06 00:30","v":13.969},{"s":"EGLD","t":"10-06 01:00","v":14.003},{"s":"EGLD","t":"10-06 01:30","v":14.083},{"s":"EGLD","t":"10-06 02:00","v":14.117},{"s":"EGLD","t":"10-06 02:30","v":14.102},{"s":"EGLD","t":"10-06 03:00","v":14.071},{"s":"EGLD","t":"10-06 03:30","v":13.995},{"s":"EGLD","t":"10-06 04:00","v":14.048},{"s":"EGLD","t":"10-06 04:30","v":14.052},{"s":"EGLD","t":"10-06 05:00","v":14.045},{"s":"EGLD","t":"10-06 05:30","v":14.037},{"s":"EGLD","t":"10-06 06:00","v":14.040},{"s":"EGLD","t":"10-06 06:30","v":14.033},{"s":"EGLD","t":"10-06 07:00","v":14.052},{"s":"EGLD","t":"10-06 07:30","v":14.007},{"s":"EGLD","t":"10-06 08:00","v":14.041},{"s":"EGLD","t":"10-06 08:30","v":14.067},{"s":"EGLD","t":"10-06 09:00","v":14.094},{"s":"EGLD","t":"10-06 09:30","v":14.121},{"s":"EGLD","t":"10-06 10:00","v":14.102},{"s":"EGLD","t":"10-06 10:30","v":14.094},{"s":"EGLD","t":"10-06 11:00","v":14.162},{"s":"EGLD","t":"10-06 11:30","v":14.128},{"s":"EGLD","t":"10-06 12:00","v":14.109},{"s":"EGLD","t":"10-06 12:30","v":14.113},{"s":"EGLD","t":"10-06 13:00","v":14.151},{"s":"EGLD","t":"10-06 13:30","v":14.170},{"s":"EGLD","t":"10-06 14:00","v":14.159},{"s":"EGLD","t":"10-06 14:30","v":14.155},{"s":"EGLD","t":"10-06 15:00","v":14.132},{"s":"EGLD","t":"10-06 15:30","v":14.128},{"s":"EGLD","t":"10-06 16:00","v":14.121},{"s":"EGLD","t":"10-06 16:30","v":14.128},{"s":"EGLD","t":"10-06 17:00","v":14.113},{"s":"EGLD","t":"10-06 17:30","v":14.117},{"s":"EGLD","t":"10-06 18:00","v":14.086},
{"s":"OP","t":"10-05 18:00","v":0.7242},{"s":"OP","t":"10-05 18:30","v":0.7237},{"s":"OP","t":"10-05 19:00","v":0.7247},{"s":"OP","t":"10-05 19:30","v":0.7266},{"s":"OP","t":"10-05 20:00","v":0.7237},{"s":"OP","t":"10-05 20:30","v":0.7294},{"s":"OP","t":"10-05 21:00","v":0.7200},{"s":"OP","t":"10-05 21:30","v":0.7303},{"s":"OP","t":"10-05 22:00","v":0.7294},{"s":"OP","t":"10-05 22:30","v":0.7284},{"s":"OP","t":"10-05 23:00","v":0.7345},{"s":"OP","t":"10-05 23:30","v":0.7312},{"s":"OP","t":"10-06 00:00","v":0.7316},{"s":"OP","t":"10-06 00:30","v":0.7298},{"s":"OP","t":"10-06 01:00","v":0.7256},{"s":"OP","t":"10-06 01:30","v":0.7280},{"s":"OP","t":"10-06 02:00","v":0.7354},{"s":"OP","t":"10-06 02:30","v":0.7406},{"s":"OP","t":"10-06 03:00","v":0.7392},{"s":"OP","t":"10-06 03:30","v":0.7364},{"s":"OP","t":"10-06 04:00","v":0.7345},{"s":"OP","t":"10-06 04:30","v":0.7373},{"s":"OP","t":"10-06 05:00","v":0.7401},{"s":"OP","t":"10-06 05:30","v":0.7398},{"s":"OP","t":"10-06 06:00","v":0.7373},{"s":"OP","t":"10-06 06:30","v":0.7397},{"s":"OP","t":"10-06 07:00","v":0.7439},{"s":"OP","t":"10-06 07:30","v":0.7457},{"s":"OP","t":"10-06 08:00","v":0.7486},{"s":"OP","t":"10-06 08:30","v":0.7514},{"s":"OP","t":"10-06 09:00","v":0.7556},{"s":"OP","t":"10-06 09:30","v":0.7640},{"s":"OP","t":"10-06 10:00","v":0.7626},{"s":"OP","t":"10-06 10:30","v":0.7579},{"s":"OP","t":"10-06 11:00","v":0.7635},{"s":"OP","t":"10-06 11:30","v":0.7631},{"s":"OP","t":"10-06 12:00","v":0.7598},{"s":"OP","t":"10-06 12:30","v":0.7607},{"s":"OP","t":"10-06 13:00","v":0.7645},{"s":"OP","t":"10-06 13:30","v":0.7668},{"s":"OP","t":"10-06 14:00","v":0.7635},{"s":"OP","t":"10-06 14:30","v":0.7638},{"s":"OP","t":"10-06 15:00","v":0.7640},{"s":"OP","t":"10-06 15:30","v":0.7659},{"s":"OP","t":"10-06 16:00","v":0.7640},{"s":"OP","t":"10-06 16:30","v":0.7607},{"s":"OP","t":"10-06 17:00","v":0.7617},{"s":"OP","t":"10-06 17:30","v":0.7635},{"s":"OP","t":"10-06 18:00","v":0.7626},
{"s":"AAVE","t":"10-05 18:00","v":287.77},{"s":"AAVE","t":"10-05 18:30","v":287.28},{"s":"AAVE","t":"10-05 19:00","v":287.70},{"s":"AAVE","t":"10-05 19:30","v":288.09},{"s":"AAVE","t":"10-05 20:00","v":287.12},{"s":"AAVE","t":"10-05 20:30","v":289.72},{"s":"AAVE","t":"10-05 21:00","v":285.66},{"s":"AAVE","t":"10-05 21:30","v":288.58},{"s":"AAVE","t":"10-05 22:00","v":287.93},{"s":"AAVE","t":"10-05 22:30","v":287.77},{"s":"AAVE","t":"10-05 23:00","v":289.23},{"s":"AAVE","t":"10-05 23:30","v":289.56},{"s":"AAVE","t":"10-06 00:00","v":289.39},{"s":"AAVE","t":"10-06 00:30","v":288.58},{"s":"AAVE","t":"10-06 01:00","v":288.42},{"s":"AAVE","t":"10-06 01:30","v":288.35},{"s":"AAVE","t":"10-06 02:00","v":291.18},{"s":"AAVE","t":"10-06 02:30","v":291.83},{"s":"AAVE","t":"10-06 03:00","v":292.96},{"s":"AAVE","t":"10-06 03:30","v":290.20},{"s":"AAVE","t":"10-06 04:00","v":291.02},{"s":"AAVE","t":"10-06 04:30","v":291.83},{"s":"AAVE","t":"10-06 05:00","v":291.99},{"s":"AAVE","t":"10-06 05:30","v":291.90},{"s":"AAVE","t":"10-06 06:00","v":291.83},{"s":"AAVE","t":"10-06 06:30","v":292.31},{"s":"AAVE","t":"10-06 07:00","v":292.80},{"s":"AAVE","t":"10-06 07:30","v":292.15},{"s":"AAVE","t":"10-06 08:00","v":294.75},{"s":"AAVE","t":"10-06 08:30","v":294.91},{"s":"AAVE","t":"10-06 09:00","v":294.85},{"s":"AAVE","t":"10-06 09:30","v":296.21},{"s":"AAVE","t":"10-06 10:00","v":297.83},{"s":"AAVE","t":"10-06 10:30","v":296.37},{"s":"AAVE","t":"10-06 11:00","v":298.64},{"s":"AAVE","t":"10-06 11:30","v":297.83},{"s":"AAVE","t":"10-06 12:00","v":299.62},{"s":"AAVE","t":"10-06 12:30","v":301.24},{"s":"AAVE","t":"10-06 13:00","v":299.94},{"s":"AAVE","t":"10-06 13:30","v":300.27},{"s":"AAVE","t":"10-06 14:00","v":299.94},{"s":"AAVE","t":"10-06 14:30","v":300.43},{"s":"AAVE","t":"10-06 15:00","v":300.40},{"s":"AAVE","t":"10-06 15:30","v":301.89},{"s":"AAVE","t":"10-06 16:00","v":300.59},{"s":"AAVE","t":"10-06 16:30","v":299.78},{"s":"AAVE","t":"10-06 17:00","v":299.94},{"s":"AAVE","t":"10-06 17:30","v":300.27},{"s":"AAVE","t":"10-06 18:00","v":299.13}
]},
"facet":{"field":"s","type":"nominal","title":null,"header":{"labels":false,"title":null,"labelExpr":"''","labelFontSize":0,"labelPadding":0,"titlePadding":0},"sort":["BTC","ETH","SOL","BNB","XRP","DOGE","ADA","TRX","AVAX","XLM","DOT","LINK","BCH","SUI","NEAR","LTC","APT","EGLD","OP","AAVE"]},
"spec":{
"width":510,"height":272,
"layer":[
{"transform":[{"filter":"isValid(datum.pair)"}],
 "mark":{"type":"rect"},
 "encoding":{"color":{"field":"pct","type":"quantitative","legend":null,"scale":{"domain":[-2.5,0,5],"range":["#a8404a","#3f4650","#3bcd62"],"interpolate":"rgb","clamp":true}}}},
{"transform":[{"filter":"isValid(datum.v)"}],
 "mark":{"type":"line","color":"#ffffff","strokeWidth":2,"strokeJoin":"round"},
 "encoding":{
  "x":{"field":"t","type":"temporal","scale":{"domain":[{"year":1900,"month":10,"date":5,"hours":18},{"year":1900,"month":10,"date":6,"hours":18}],"nice":false},
   "axis":{"orient":"bottom","title":null,"values":[{"year":1900,"month":10,"date":5,"hours":18},{"year":1900,"month":10,"date":6,"hours":0},{"year":1900,"month":10,"date":6,"hours":6},{"year":1900,"month":10,"date":6,"hours":12},{"year":1900,"month":10,"date":6,"hours":18}],
   "labelExpr":"hours(datum.value) == 0 ? timeFormat(datum.value, '%b %d') : timeFormat(datum.value, '%-I%p')",
   "domain":false,"ticks":false,"tickSize":0,"grid":false,"labelPadding":0,"offset":-18,"labelFlush":true,"labelFlushOffset":-3,"labelOverlap":false,
   "labelFont":"Lato","labelFontSize":13.5,"labelFontWeight":"bold","labelColor":"#ffffff","zindex":1}},
  "y":{"field":"v","type":"quantitative","scale":{"zero":false,"nice":false,"range":[251,125]},"axis":null}}},
{"transform":[{"filter":"isValid(datum.pair)"}],
 "mark":{"type":"text","align":"left","baseline":"alphabetic","font":"Inter","fontSize":24,"fontWeight":500,"fill":"#ffffff","dx":13},
 "encoding":{"x":{"datum":{"year":1900,"month":10,"date":5,"hours":18}},"y":{"value":36},"text":{"field":"pair"}}},
{"transform":[{"filter":"isValid(datum.pair)"}],
 "mark":{"type":"text","align":"left","baseline":"alphabetic","font":"Inter","fontSize":48,"fontWeight":700,"fill":"#ffffff","dx":13},
 "encoding":{"x":{"datum":{"year":1900,"month":10,"date":5,"hours":18}},"y":{"value":95},"text":{"field":"price"}}},
{"transform":[{"filter":"isValid(datum.pair)"}],
 "mark":{"type":"text","align":"right","baseline":"alphabetic","font":"Inter","fontSize":24,"fontWeight":500,"fill":"#ffffff",
  "dx":{"expr":"-42 - (14.6 * length(datum.chg) - 8.1 - (indexof(datum.chg, '-') >= 0 ? 5.1 : 0) - 4.6 * (length(split(datum.chg, '1')) - 1))"},
  "text":{"expr":"(datum.pct < 0 ? '-' : '+') + format(abs(datum.pct), '.2f') + '%'"}},
 "encoding":{"x":{"datum":{"year":1900,"month":10,"date":6,"hours":18}},"y":{"value":36}}},
{"transform":[{"filter":"isValid(datum.pair)"}],
 "mark":{"type":"circle","size":44,"fill":"#ffffff","opacity":0.5,
  "xOffset":{"expr":"-27.5 - (14.6 * length(datum.chg) - 8.1 - (indexof(datum.chg, '-') >= 0 ? 5.1 : 0) - 4.6 * (length(split(datum.chg, '1')) - 1))"}},
 "encoding":{"x":{"datum":{"year":1900,"month":10,"date":6,"hours":18}},"y":{"value":28.5}}},
{"transform":[{"filter":"isValid(datum.pair)"}],
 "mark":{"type":"text","align":"right","baseline":"alphabetic","font":"Inter","fontSize":24,"fontWeight":500,"fill":"#ffffff","dx":-13},
 "encoding":{"x":{"datum":{"year":1900,"month":10,"date":6,"hours":18}},"y":{"value":36},"text":{"field":"chg"}}},
{"transform":[{"filter":"isValid(datum.pair) && (toNumber(datum.hi) - toNumber(datum.price)) / (toNumber(datum.hi) - toNumber(datum.lo)) < 0.1"}],
 "mark":{"type":"rect","fill":"#f2c544","cornerRadius":4,"y":52,"y2":80,"x2Offset":-8,"xOffset":{"expr":"-18 - 11.2 * (2 + length(datum.hi))"}},
 "encoding":{"x":{"datum":{"year":1900,"month":10,"date":6,"hours":18}},"x2":{"datum":{"year":1900,"month":10,"date":6,"hours":18}}}},
{"transform":[{"filter":"isValid(datum.pair) && (toNumber(datum.price) - toNumber(datum.lo)) / (toNumber(datum.hi) - toNumber(datum.lo)) < 0.1"}],
 "mark":{"type":"rect","fill":"#f2c544","cornerRadius":4,"y":80,"y2":108,"x2Offset":-8,"xOffset":{"expr":"-18 - 11.2 * (2 + length(datum.lo))"}},
 "encoding":{"x":{"datum":{"year":1900,"month":10,"date":6,"hours":18}},"x2":{"datum":{"year":1900,"month":10,"date":6,"hours":18}}}},
{"transform":[{"filter":"isValid(datum.pair)"}],
 "mark":{"type":"text","align":"right","baseline":"alphabetic","font":"Inter","fontSize":20,"fontWeight":500,"dx":-13,"text":{"expr":"'H ' + datum.hi"}},
 "encoding":{"x":{"datum":{"year":1900,"month":10,"date":6,"hours":18}},"y":{"value":73},
  "color":{"condition":{"test":"(toNumber(datum.hi) - toNumber(datum.price)) / (toNumber(datum.hi) - toNumber(datum.lo)) < 0.1","value":"#2a2a2a"},"value":"#ffffff"}}},
{"transform":[{"filter":"isValid(datum.pair)"}],
 "mark":{"type":"text","align":"right","baseline":"alphabetic","font":"Inter","fontSize":20,"fontWeight":500,"dx":-13,"text":{"expr":"'L ' + datum.lo"}},
 "encoding":{"x":{"datum":{"year":1900,"month":10,"date":6,"hours":18}},"y":{"value":100},
  "color":{"condition":{"test":"(toNumber(datum.price) - toNumber(datum.lo)) / (toNumber(datum.hi) - toNumber(datum.lo)) < 0.1","value":"#2a2a2a"},"value":"#ffffff"}}}
]},
"resolve":{"scale":{"y":"independent"},"axis":{"x":"independent"}}
}
